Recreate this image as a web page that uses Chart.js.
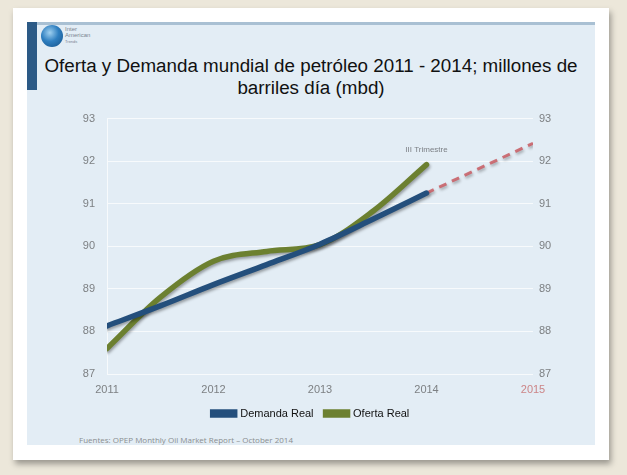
<!DOCTYPE html>
<html>
<head>
<meta charset="utf-8">
<script src="https://cdn.jsdelivr.net/npm/chart.js@4/dist/chart.umd.min.js"></script>
<style>
  html, body { margin: 0; padding: 0; }
  body {
    width: 627px; height: 475px; overflow: hidden; position: relative;
    background: #ece7da;
    font-family: "Liberation Sans", Arial, sans-serif;
  }
  #card {
    position: absolute; left: 13px; top: 8px; width: 596px; height: 452px;
    background: #fff; box-shadow: 2px 4px 6px rgba(0,0,0,0.35);
  }
  #panel {
    position: absolute; left: 27px; top: 22px; width: 568px; height: 423px;
    background: #e3edf5;
  }
  #topline {
    position: absolute; left: 37px; top: 22px; width: 558px; height: 3px;
    background: #a9c0d3;
  }
  #bar {
    position: absolute; left: 27px; top: 22px; width: 10px; height: 68px;
    background: #2c5a86;
  }
  #globe {
    position: absolute; left: 41px; top: 25px; width: 22px; height: 22px; border-radius: 50%;
    background: radial-gradient(circle at 40% 35%, #9fd0f0 0%, #2f7fc0 45%, #134f86 100%);
  }
  #logo {
    position: absolute; left: 65px; top: 26px; font-size: 6px; line-height: 6px; color: #7a8590;
  }
  #title {
    position: absolute; left: 27px; top: 55px; width: 568px; text-align: center;
    font-size: 18.8px; line-height: 22px; color: #111;
  }
  #src {
    position: absolute; left: 79px; top: 434px; font-size: 8px; color: #8a8d90;
    font-family: "Open Sans", "Liberation Sans", sans-serif;
  }
  #wrap { position: absolute; left: 27px; top: 100px; width: 568px; height: 329px; }
</style>
</head>
<body>
<div id="card"></div>
<div id="panel"></div>
<div id="topline"></div>
<div id="bar"></div>
<div id="globe"></div>
<div id="logo">Inter<br>American<br><span style="font-size:4px">Trends</span></div>
<div id="title">Oferta y Demanda mundial de petróleo 2011 - 2014; millones de<br>barriles día (mbd)</div>
<div id="wrap"><canvas id="chart" width="568" height="329"></canvas></div>
<div id="src">Fuentes: OPEP Monthly Oil Market Report – October 2014</div>
<script>
var years = [2011, 2011.5, 2012, 2012.5, 2013, 2013.5, 2014];
var demandaReal = [88.13, 88.6, 89.1, 89.57, 90.05, 90.64, 91.25];
var ofertaReal = [87.6, 88.8, 89.65, 89.88, 90.04, 90.83, 91.92];
var projYears = [2014, 2015];
var projValues = [91.25, 92.42];
var yearTicks = [2011, 2012, 2013, 2014, 2015];
var annotationText = 'III Trimestre';

function pts(xs, ys) {
    return xs.map(function (x, i) { return { x: x, y: ys[i] }; });
}

var shadowPlugin = {
    id: 'lineShadow',
    beforeDatasetDraw: function (chart) {
        var ctx = chart.ctx;
        ctx.save();
        ctx.shadowColor = 'rgba(0,0,0,0.35)';
        ctx.shadowBlur = 3;
        ctx.shadowOffsetX = 1;
        ctx.shadowOffsetY = 2;
    },
    afterDatasetDraw: function (chart) {
        chart.ctx.restore();
    }
};

var notePlugin = {
    id: 'note',
    afterDatasetsDraw: function (chart) {
        var ctx = chart.ctx;
        var x = chart.scales.x.getPixelForValue(2014);
        var y = chart.scales.y.getPixelForValue(92.27);
        ctx.save();
        ctx.font = '8px "Liberation Sans", Arial, sans-serif';
        ctx.fillStyle = '#7b7f84';
        ctx.textAlign = 'center';
        ctx.textBaseline = 'middle';
        ctx.fillText(annotationText, x, y);
        ctx.restore();
    }
};

var tickFont = { family: '"Liberation Sans", Arial, sans-serif', size: 11 };

new Chart(document.getElementById('chart'), {
    type: 'line',
    data: {
        datasets: [
            {
                label: 'Demanda Real',
                data: pts(years, demandaReal),
                borderColor: '#244f7c',
                backgroundColor: '#244f7c',
                borderWidth: 5.5,
                pointRadius: 0,
                cubicInterpolationMode: 'monotone',
                borderCapStyle: 'round'
            },
            {
                label: 'Oferta Real',
                data: pts(years, ofertaReal),
                borderColor: '#6c8030',
                backgroundColor: '#6c8030',
                borderWidth: 5.5,
                pointRadius: 0,
                cubicInterpolationMode: 'monotone',
                borderCapStyle: 'round'
            },
            {
                label: 'Proyección',
                data: pts(projYears, projValues),
                borderColor: 'rgba(200,90,98,0.85)',
                borderWidth: 3,
                borderDash: [8, 6],
                pointRadius: 0
            }
        ]
    },
    options: {
        responsive: false,
        animation: false,
        layout: { padding: { top: 8, left: 0, right: 0, bottom: 0 } },
        plugins: {
            tooltip: { enabled: false },
            legend: {
                position: 'bottom',
                labels: {
                    filter: function (item) { return item.datasetIndex < 2; },
                    boxWidth: 22,
                    boxHeight: 3,
                    padding: 12,
                    color: '#111',
                    font: tickFont
                }
            }
        },
        scales: {
            x: {
                type: 'linear',
                min: 2011,
                max: 2015,
                afterBuildTicks: function (s) {
                    s.ticks = yearTicks.map(function (v) { return { value: v }; });
                },
                afterFit: function (s) { s.height = 22; },
                grid: { display: false },
                border: { display: false },
                ticks: {
                    padding: 1,
                    font: tickFont,
                    color: function (c) { return c.tick.value === 2015 ? '#cc8587' : '#7d8083'; },
                    callback: function (v) { return String(v); }
                }
            },
            y: {
                position: 'left',
                min: 87,
                max: 93,
                afterFit: function (s) { s.width = 80; },
                grid: { color: 'rgba(255,255,255,0.7)', drawTicks: false, lineWidth: 1 },
                border: { display: true, color: 'rgba(255,255,255,0.7)' },
                ticks: { stepSize: 1, padding: 12, font: tickFont, color: '#7d8083' }
            },
            y2: {
                position: 'right',
                min: 87,
                max: 93,
                afterFit: function (s) { s.width = 62; },
                grid: { display: false, drawTicks: false },
                border: { display: false },
                ticks: { stepSize: 1, padding: 6, font: tickFont, color: '#7d8083' }
            }
        }
    },
    plugins: [shadowPlugin, notePlugin]
});
</script>
</body>
</html>
